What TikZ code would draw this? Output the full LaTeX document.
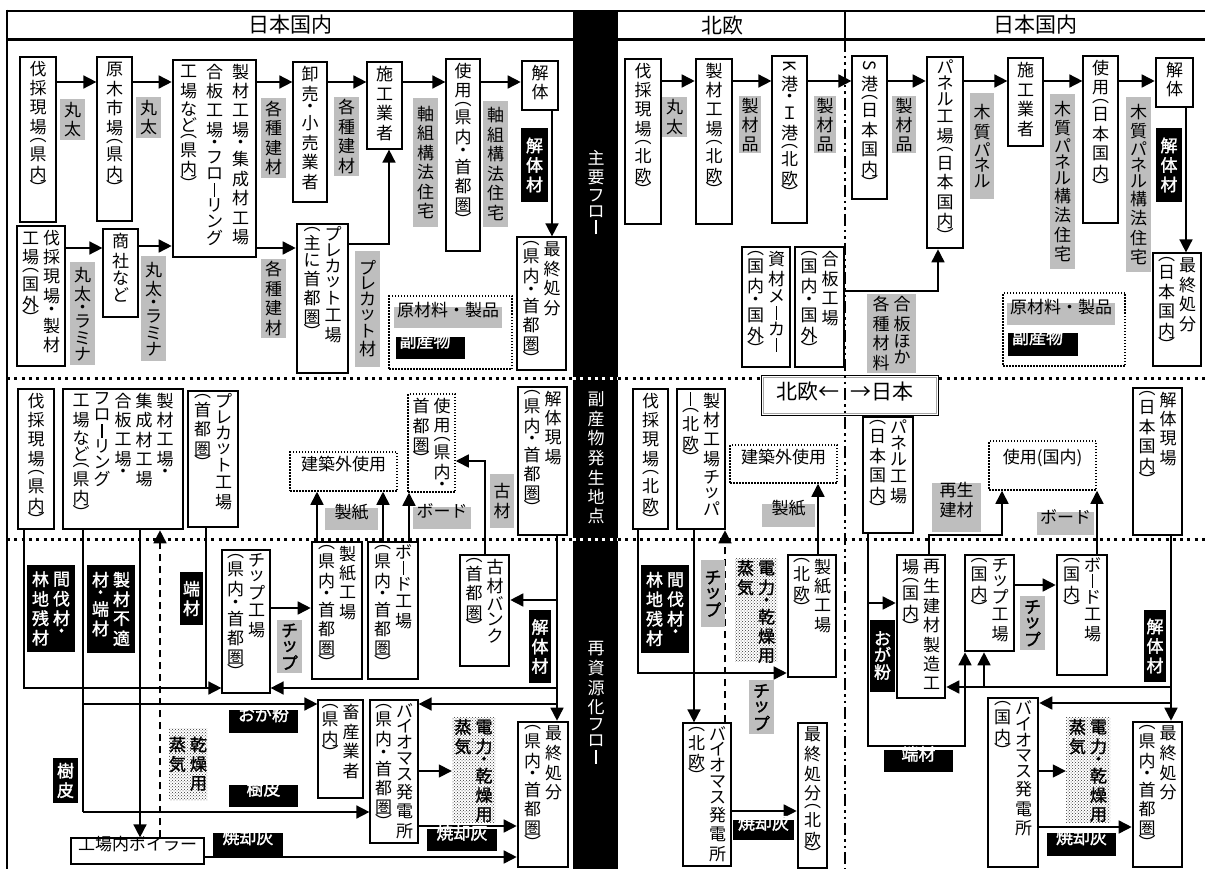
\documentclass[tikz,border=0pt]{standalone}
\usepackage{fontspec}
\usepackage{graphicx}
\setmainfont{Noto Sans CJK JP}
\newfontfamily\jb[FakeBold=1.6]{Noto Sans CJK JP}
\usetikzlibrary{arrows.meta,patterns,fit}
\definecolor{lgray}{RGB}{190,190,190}
\XeTeXuseglyphmetrics=1
\makeatletter
\newbox\vt@box
\newlength\vtpitch \setlength\vtpitch{19.5pt}
\newlength\vtgap \setlength\vtgap{4pt}
\let\vt@end\relax
\def\vt@endm{\vt@end}
\def\vt@LP{（}\def\vt@RP{）}\def\vt@DT{・}\def\vt@BR{ー}
\newcommand\vt[1]{\vtop{\offinterlineskip\hbox{}\vt@loop#1\vt@end}}
\def\vt@loop#1{\def\vt@tmp{#1}\ifx\vt@tmp\vt@endm\else\vt@char{#1}\expandafter\vt@loop\fi}
\def\vt@char#1{\def\vt@c{#1}%
 \ifcat\noexpand#1\relax \vt@slot{.8}{#1}%
 \else\ifx\vt@c\vt@LP \vt@slot{.38}{︵}%
 \else\ifx\vt@c\vt@RP \vt@slot{.38}{︶}%
 \else\ifx\vt@c\vt@DT \vt@slot{.5}{・}%
 \else\ifx\vt@c\vt@BR \vt@slot{.82}{\rule{1.4pt}{14pt}}%
 \else\ifnum`#1>"303F \ifnum`#1<"3100 \vt@slot{.82}{#1}\else\vt@slot{1}{#1}\fi
 \else\vt@slot{1}{#1}\fi
 \fi\fi\fi\fi\fi}
\def\vt@slot#1#2{%
 \setbox\vt@box\hbox{#2}%
 \dimen@=\dimexpr(\ht\vt@box-\dp\vt@box)/2\relax
 \setbox\vt@box\hbox to 1em{\hss\lower\dimen@\box\vt@box\hss}%
 \dimen@=#1\vtpitch \divide\dimen@ by 2
 \ht\vt@box=\dimen@ \dp\vt@box=\dimen@ \box\vt@box}
\newcommand\vtt[2]{\vt{#2}\hskip\vtgap\vt{#1}}
\newcommand\rK{\rotatebox[origin=c]{-90}{K}}
\newcommand\rS{\rotatebox[origin=c]{-90}{S}}
\makeatother
\begin{document}
\begin{tikzpicture}[x=1pt,y=-1pt,font=\fontsize{17}{20}\selectfont,
 thn/.style={draw,line width=1.2pt,fill=white,inner sep=0pt},
 thk/.style={draw,line width=2.6pt,fill=white,inner sep=0pt},
 dbx/.style={draw,line width=1.5pt,dash pattern=on 1.5pt off 1.5pt,fill=white,inner sep=0pt},
 tx/.style={anchor=north,inner sep=0pt,yshift=-3pt},
 hz/.style={text height=.86em,text depth=.1em},
 glab/.style={fill=lgray,inner sep=0pt},
 gblab/.style={fill=lgray,inner sep=0pt,font=\fontsize{17}{20}\jb},
 blab/.style={fill=black,text=white,inner sep=0pt,font=\fontsize{17}{20}\jb},
 plab/.style={pattern=crosshatch dots,pattern color=black!80,inner sep=0pt,font=\fontsize{17}{20}\jb},
 ln/.style={line width=1.6pt},
 arr/.style={line width=1.6pt,-{Triangle[length=13pt,width=13pt]}},
 darr/.style={line width=1.6pt,dash pattern=on 7pt off 5pt,-{Triangle[length=13pt,width=13pt]}},
 sep/.style={line width=3pt,dash pattern=on 3pt off 4.3pt},
 hdr/.style={font=\fontsize{21}{24}\selectfont,inner sep=0pt},
 band/.style={text=white,inner sep=0pt}]
\useasboundingbox (0,0) rectangle (1205,869);
\fill[white] (0,0) rectangle (1205,869);
% header and frame
\draw[line width=2.5pt] (7,11) -- (573,11);
\draw[line width=3pt] (7,40) -- (573,40);
\draw[line width=2.5pt] (618,11) -- (1205,11);
\draw[line width=3pt] (618,40) -- (1205,40);
\draw[line width=2pt] (845,11) -- (845,40);
\draw[line width=2.5pt] (7,9.75) -- (7,869);
\node[hdr] (H1) at (290,25) {日本国内};
\node[hdr] (H2) at (722,25) {北欧};
\node[hdr] (H3) at (1035,25) {日本国内};
\fill[black] (573,9.75) rectangle (618,869);
\node[band] (S1) at (596,192) {\vt{主要フロー}};
\node[band] (S2) at (596,458) {\vt{副産物発生地点}};
\node[band] (S3) at (596,702) {\vt{再資源化フロー}};
% separators
\draw[sep] (7,378) -- (573,378);
\draw[sep,white] (573,378) -- (618,378);
\draw[sep] (618,378) -- (1205,378);
\draw[sep] (7,539) -- (573,539);
\draw[sep,white] (573,539) -- (618,539);
\draw[sep] (618,539) -- (1205,539);
% north-europe / japan box
\node[draw,line width=1.2pt,fill=white,fit={(765,379)(935,412)}] (D4) {};
\draw[gray!70,line width=1.6pt] ([shift={(2.5pt,-2.5pt)}]D4.north west) rectangle ([shift={(-2.5pt,2.5pt)}]D4.south east);
\node[hz,font=\fontsize{21}{24}\selectfont,anchor=east,inner sep=0pt] (D4a) at (840,396) {北欧←};
\node[hz,font=\fontsize{21}{24}\selectfont,anchor=west,inner sep=0pt] (D4b) at (850,396) {→日本};
\draw[line width=2.2pt,dash pattern=on 12pt off 4pt on 2.5pt off 4pt on 2.5pt off 4pt] (845,40) -- (845,869);
% ---------- top left boxes
\node[thk,fit={(20,57)(56,222)}] (A1) {};
\node[tx] (A1t) at (A1.north) {\vt{伐採現場（県内）}};
\node[thn,fit={(97,57)(132,221)}] (A2) {};
\node[tx] (A2t) at (A2.north) {\vt{原木市場（県内）}};
\node[thk,fit={(173,60)(256,257)}] (A3) {};
\node[tx] (A3t) at (A3.north) {\vt{工場など（県内）}\hskip9pt\vt{合板工場・フローリング}\hskip9pt\vt{製材工場・集成材工場}};
\node[thn,fit={(293,62)(327,202)}] (A4) {};
\node[tx] (A4t) at (A4.north) {\vt{卸売・小売業者}};
\node[thn,fit={(367,62)(402,149)}] (A5) {};
\node[tx] (A5t) at (A5.north) {\vt{施工業者}};
\node[thn,fit={(446,59)(480,251)}] (A6) {};
\node[tx] (A6t) at (A6.north) {\vt{使用（県内・首都圏）}};
\node[thk,fit={(522,61)(558,110)}] (A7) {};
\node[tx] (A7t) at (A7.north) {\vt{解体}};
\node[thn,fit={(517,237)(566,370)}] (A8) {};
\node[tx] (A8t) at (A8.north) {\vtt{最終処分}{（県内・首都圏）}};
\node[thn,line width=2pt,fit={(17,226)(65,366)}] (A9) {};
\node[tx] (A9t) at (A9.north) {\vtt{伐採現場・製材}{工場（国外）}};
\node[thn,fit={(103,229)(138,317)}] (A10) {};
\node[tx] (A10t) at (A10.north) {\vt{商社など}};
\node[thk,fit={(297,224)(348,373)}] (A11) {};
\node[tx] (A11t) at (A11.north) {\vtt{プレカット工場}{（主に首都圏）}};
\node[dbx,fit={(389,296)(512,369)}] (L1) {};
\node[glab,hz,fit={(394,307)(502,328)}] (L1a) {原材料・製品};
\node[blab,hz,fit={(396,337)(465,359)}] (L1b) {\makebox[62pt][l]{副産物}};
% ---------- top right boxes
\node[thk,fit={(625,59)(661,224)}] (B1) {};
\node[tx] (B1t) at (B1.north) {\vt{伐採現場（北欧）}};
\node[thk,fit={(696,59)(732,224)}] (B2) {};
\node[tx] (B2t) at (B2.north) {\vt{製材工場（北欧）}};
\node[thn,fit={(772,56)(807,223)}] (B3) {};
\node[tx] (B3t) at (B3.north) {\vt{\rK 港・Ｉ港（北欧）}};
\node[thn,fit={(852,56)(887,199)}] (B4) {};
\node[tx] (B4t) at (B4.north) {\vt{\rS 港（日本国内）}};
\node[thk,fit={(927,57)(963,248)}] (B5) {};
\node[tx] (B5t) at (B5.north) {\vt{パネル工場（日本国内）}};
\node[thn,fit={(1008,58)(1043,146)}] (B6) {};
\node[tx] (B6t) at (B6.north) {\vt{施工業者}};
\node[thn,fit={(1083,56)(1118,223)}] (B7) {};
\node[tx] (B7t) at (B7.north) {\vt{使用（日本国内）}};
\node[thk,fit={(1156,58)(1193,107)}] (B8) {};
\node[tx] (B8t) at (B8.north) {\vt{解体}};
\node[thn,fit={(1153,253)(1201,366)}] (B9) {};
\node[tx] (B9t) at (B9.north) {\vtt{最終処分}{（日本国内）}};
\node[thn,fit={(742,247)(790,367)}] (B10) {};
\node[tx] (B10t) at (B10.north) {\vtt{資材メーカー}{（国内・国外）}};
\node[thn,fit={(795,247)(844,367)}] (B11) {};
\node[tx] (B11t) at (B11.north) {\vtt{合板工場}{（国内・国外）}};
\node[dbx,fit={(1003,293)(1125,366)}] (L2) {};
\node[glab,hz,fit={(1007,303)(1115,325)}] (L2a) {原材料・製品};
\node[blab,hz,fit={(1008,333)(1078,356)}] (L2b) {\makebox[62pt][l]{副産物}};
% ---------- middle boxes
\node[thk,fit={(18,389)(54,529)}] (C1) {};
\node[tx] (C1t) at (C1.north) {\vt{伐採現場（県内）}};
\node[thk,fit={(63,389)(183,529)}] (C2) {};
\node[tx] (C2t) at (C2.north) {\vt{工場など（県内）}\hskip\vtgap\vt{フローリング}\hskip\vtgap\vt{合板工場・}\hskip\vtgap\vt{集成材工場}\hskip\vtgap\vt{製材工場・}};
\node[thk,fit={(188,391)(238,527)}] (C3) {};
\node[tx] (C3t) at (C3.north) {\vtt{プレカット工場}{（首都圏）}};
\node[dbx,hz,fit={(290,452)(397,491)}] (C4) {建築外使用};
\node[dbx,fit={(408,394)(455,492)}] (C5) {};
\node[tx] (C5t) at (C5.north) {\vtt{使用（県内・}{首都圏）}};
\node[thk,fit={(518,387)(567,535)}] (C6) {};
\node[tx] (C6t) at (C6.north) {\vtt{解体現場}{（県内・首都圏）}};
\node[thk,fit={(633,389)(668,529)}] (D1) {};
\node[tx] (D1t) at (D1.north) {\vt{伐採現場（北欧）}};
\node[thk,fit={(677,389)(725,529)}] (D2) {};
\node[tx] (D2t) at (D2.north) {\vtt{製材工場チッパ}{ー（北欧）}};
\node[dbx,hz,fit={(730,445)(837,483)}] (D3) {建築外使用};
\node[thk,fit={(863,417)(913,533)}] (D5) {};
\node[tx] (D5t) at (D5.north) {\vtt{パネル工場}{（日本国内）}};
\node[dbx,hz,fit={(989,441)(1096,490)}] (D6) {使用(国内)};
\node[thk,fit={(1133,388)(1182,535)}] (D7) {};
\node[tx] (D7t) at (D7.north) {\vtt{解体現場}{（日本国内）}};
% ---------- bottom boxes
\node[thn,fit={(222,550)(270,693)}] (E1) {};
\node[tx] (E1t) at (E1.north) {\vtt{チップ工場}{（県内・首都圏）}};
\node[thk,fit={(312,542)(362,679)}] (E2) {};
\node[tx] (E2t) at (E2.north) {\vtt{製紙工場}{（県内・首都圏）}};
\node[thk,fit={(368,542)(418,679)}] (E3) {};
\node[tx] (E3t) at (E3.north) {\vtt{ボード工場}{（県内・首都圏）}};
\node[thk,fit={(460,555)(509,666)}] (E4) {};
\node[tx] (E4t) at (E4.north) {\vtt{古材バンク}{（首都圏）}};
\node[thn,fit={(318,700)(363,798)}] (E5) {};
\node[tx] (E5t) at (E5.north) {\vtt{畜産業者}{（県内）}};
\node[thn,fit={(370,700)(418,843)}] (E6) {};
\node[tx] (E6t) at (E6.north) {\vtt{バイオマス発電所}{（県内・首都圏）}};
\node[thk,fit={(518,722)(568,867)}] (E7) {};
\node[tx] (E7t) at (E7.north) {\vtt{最終処分}{（県内・首都圏）}};
\node[thn,hz,fit={(71,838)(204,864)}] (E8) {工場内ボイラー};
\node[thk,fit={(788,555)(836,677)}] (F1) {};
\node[tx] (F1t) at (F1.north) {\vtt{製紙工場}{（北欧）}};
\node[thn,fit={(683,723)(731,866)}] (F2) {};
\node[tx] (F2t) at (F2.north) {\vtt{バイオマス発電所}{（北欧）}};
\node[thk,fit={(798,723)(827,868)}] (F3) {};
\node[tx] (F3t) at (F3.north) {\vt{最終処分（北欧）}};
\node[thk,fit={(897,555)(945,698)}] (G1) {};
\node[tx] (G1t) at (G1.north) {\vtt{再生建材製造工}{場（国内）}};
\node[thk,fit={(965,555)(1014,651)}] (G2) {};
\node[tx] (G2t) at (G2.north) {\vtt{チップ工場}{（国内）}};
\node[thk,fit={(1057,555)(1107,675)}] (G3) {};
\node[tx] (G3t) at (G3.north) {\vtt{ボード工場}{（国内）}};
\node[thk,fit={(988,698)(1038,867)}] (G4) {};
\node[tx] (G4t) at (G4.north) {\vtt{バイオマス発電所}{（国内）}};
\node[thk,fit={(1133,722)(1182,867)}] (G5) {};
\node[tx] (G5t) at (G5.north) {\vtt{最終処分}{（県内・首都圏）}};
% pattern labels (needed as arrow targets)
\node[plab,fit={(169,728)(207,800)}] (P1) {\vtt{乾燥用}{蒸気}};
\node[plab,fit={(452,718)(495,822)}] (P2) {\vtt{電力・乾燥用}{蒸気}};
\node[plab,fit={(735,560)(777,660)}] (P3) {\vtt{電力・乾燥用}{蒸気}};
\node[plab,fit={(1066,718)(1110,822)}] (P4) {\vtt{電力・乾燥用}{蒸気}};
% ---------- connectors: top
\coordinate (r1) at (0,82);
\draw[arr] (A1.east |- r1) -- (A2.west |- r1);
\draw[arr] (A2.east |- r1) -- (A3.west |- r1);
\draw[arr] (A3.east |- r1) -- (A4.west |- r1);
\draw[arr] (A4.east |- r1) -- (A5.west |- r1);
\draw[arr] (A5.east |- r1) -- (A6.west |- r1);
\draw[arr] (A6.east |- r1) -- (A7.west |- r1);
\draw[arr] (A7.south -| 552,0) -- (A8.north -| 552,0);
\draw[arr] (A9.east |- 0,248) -- (A10.west |- 0,248);
\draw[arr] (A10.east |- 0,246) -- (A3.west |- 0,246);
\draw[arr] (A3.east |- 0,248) -- (A11.west |- 0,248);
\draw[arr] (A11.east |- 0,244) -| (A5.south -| 389,0);
\coordinate (r2) at (0,81);
\draw[arr] (B1.east |- r2) -- (B2.west |- r2);
\draw[arr] (B2.east |- r2) -- (B3.west |- r2);
\draw[arr] (B3.east |- r2) -- (B4.west |- r2);
\draw[arr] (B4.east |- r2) -- (B5.west |- r2);
\draw[arr] (B5.east |- r2) -- (B6.west |- r2);
\draw[arr] (B6.east |- r2) -- (B7.west |- r2);
\draw[arr] (B7.east |- r2) -- (B8.west |- r2);
\draw[arr] (B8.south -| 1186,0) -- (B9.north -| 1186,0);
\draw[arr] (B11.east |- 0,291) -| (B5.south -| 938,0);
% ---------- connectors: bottom left
\coordinate (k1) at (206,688);
\coordinate (k2) at (83,704);
\coordinate (k3) at (83,812);
\coordinate (k4) at (557,600);
\coordinate (k5) at (557,688);
\coordinate (k6) at (557,704);
\draw[arr] (C1.south -| 24,0) |- (E1.west |- k1);
\draw[ln] (C3.south -| k1) -- (k1);
\draw[ln] (C2.south -| k3) -- (k3);
\draw[arr] (k2) -- (E5.west |- k2);
\draw[arr] (k3) -- (E6.west |- k3);
\draw[arr] (C2.south -| 140,0) -- (E8.north -| 140,0);
\draw[darr] (E8.north -| 160,0) -- (C2.south -| 160,0);
\draw[arr] (E8.east |- 0,857) -- (E7.west |- 0,857);
\draw[arr] (E1.east |- 0,608) -- (E2.west |- 0,608);
\draw[arr] (E2.north -| 317,0) -- (C4.south -| 317,0);
\draw[arr] (E3.north -| 383,0) -- (C4.south -| 383,0);
\draw[arr] (E3.north -| 409,0) -- (C5.south -| 409,0);
\draw[arr] (E4.north -| 485,0) |- (C5.east |- 0,461);
\draw[arr] (C6.south -| 557,0) -- (E7.north -| 557,0);
\draw[arr] (k4) -- (E4.east |- k4);
\draw[arr] (k5) -- (E1.east |- k5);
\draw[arr] (k6) -- (E6.east |- k6);
\draw[arr] (E6.east |- 0,771) -- (P2.west |- 0,771);
\draw[arr] (E6.east |- 0,826) -- (E7.west |- 0,826);
% ---------- connectors: bottom north europe
\draw[arr] (D1.south -| 638,0) |- (F1.west |- 0,673);
\draw[arr] (D2.south -| 694,0) -- (F2.north -| 694,0);
\draw[darr] (F2.north -| 725,0) -- (D2.south -| 725,0);
\draw[arr] (F1.north -| 818,0) -- (D3.south -| 818,0);
\draw[arr] (F2.east |- 0,811) -- (F3.west |- 0,811);
% ---------- connectors: bottom japan
\coordinate (k8) at (965,746);
\coordinate (k9) at (868,603);
\coordinate (k10) at (1171,687);
\coordinate (k11) at (984,687);
\coordinate (k12) at (1171,703);
\coordinate (k13) at (1002,535);
\draw[arr] (D5.south -| k9) |- (k8) -- (G2.south -| k8);
\draw[arr] (k9) -- (G1.west |- k9);
\draw[arr] (D7.south -| k10) -- (G5.north -| k10);
\draw[arr] (k10) -- (G1.east |- k10);
\draw[arr] (k11) -- (G2.south -| k11);
\draw[arr] (k12) -- (G4.east |- k12);
\draw[arr] (G2.east |- 0,585) -- (G3.west |- 0,585);
\draw[arr] (G1.north -| 929,0) |- (k13) -- (D6.south -| k13);
\draw[arr] (G3.north -| 1097,0) -- (D6.south -| 1097,0);
\draw[arr] (G4.east |- 0,771) -- (P4.west |- 0,771);
\draw[arr] (G4.east |- 0,827) -- (G5.west |- 0,827);
% ---------- labels top left
\node[glab,fit={(60,99)(85,140)}] (g1) {\vt{丸太}};
\node[glab,fit={(136,97)(161,138)}] (g2) {\vt{丸太}};
\node[glab,fit={(261,98)(286,178)}] (g3) {\vt{各種建材}};
\node[glab,fit={(334,97)(359,176)}] (g4) {\vt{各種建材}};
\node[glab,fit={(413,98)(438,227)}] (g5) {\vt{軸組構法住宅}};
\node[glab,fit={(483,101)(508,227)}] (g6) {\vt{軸組構法住宅}};
\node[blab,fit={(521,128)(548,202)}] (g7) {\vt{解体材}};
\node[glab,fit={(70,262)(95,365)}] (g8) {\vt{丸太・ラミナ}};
\node[glab,fit={(141,256)(166,361)}] (g9) {\vt{丸太・ラミナ}};
\node[glab,fit={(261,259)(286,338)}] (g10) {\vt{各種建材}};
\node[glab,fit={(355,251)(380,367)}] (g11) {\vt{プレカット材}};
% labels top right
\node[glab,fit={(662,97)(687,137)}] (h1) {\vt{丸太}};
\node[glab,fit={(739,97)(761,152)}] (h2) {\vt{製材品}};
\node[glab,fit={(814,97)(836,152)}] (h3) {\vt{製材品}};
\node[glab,fit={(892,97)(916,152)}] (h4) {\vt{製材品}};
\node[glab,fit={(970,93)(994,199)}] (h5) {\vt{木質パネル}};
\node[glab,fit={(1050,94)(1075,269)}] (h6) {\vt{木質パネル構法住宅}};
\node[glab,fit={(1126,97)(1151,272)}] (h7) {\vt{木質パネル構法住宅}};
\node[blab,fit={(1156,128)(1182,202)}] (h8) {\vt{解体材}};
\node[glab,fit={(867,294)(916,373)}] (h9) {\vtt{合板ほか}{各種材料}};
% labels middle
\node[glab,hz,fit={(325,508)(378,530)}] (m1) {製紙};
\node[glab,hz,fit={(413,507)(471,529)}] (m2) {ボード};
\node[glab,fit={(490,474)(514,528)}] (m3) {\vt{古材}};
\node[glab,hz,fit={(762,504)(815,527)}] (m4) {製紙};
\node[glab,align=center,fit={(932,483)(981,532)}] (m5) {再生\\建材};
\node[glab,hz,fit={(1037,512)(1094,535)}] (m6) {ボード};
% labels bottom
\node[blab,fit={(27,565)(75,652)}] (n1) {\vtt{間伐材・}{林地残材}};
\node[blab,fit={(87,565)(135,653)}] (n2) {\vtt{製材不適}{材・端材}};
\node[blab,fit={(180,572)(203,625)}] (n3) {\vt{端材}};
\node[gblab,fit={(277,620)(302,673)}] (n4) {\vt{チップ}};
\node[blab,fit={(529,610)(551,683)}] (n5) {\vt{解体材}};
\node[blab,hz,fit={(229,710)(298,733)}] (n6) {おが粉};
\node[blab,hz,fit={(229,785)(298,807)}] (n7) {樹皮};
\node[blab,fit={(53,758)(78,803)}] (n8) {\vt{樹皮}};
\node[blab,hz,fit={(213,833)(283,856)}] (n9) {焼却灰};
\node[blab,hz,fit={(427,829)(497,851)}] (n10) {焼却灰};
\node[blab,fit={(641,565)(689,653)}] (n11) {\vtt{間伐材・}{林地残材}};
\node[gblab,fit={(701,560)(725,627)}] (n12) {\vt{チップ}};
\node[gblab,fit={(749,680)(774,734)}] (n13) {\vt{チップ}};
\node[blab,hz,fit={(733,820)(794,840)}] (n14) {焼却灰};
\node[blab,fit={(870,620)(895,692)}] (n15) {\vt{おが粉}};
\node[blab,hz,fit={(884,750)(953,772)}] (n16) {端材};
\node[gblab,fit={(1020,596)(1045,650)}] (n17) {\vt{チップ}};
\node[blab,fit={(1144,610)(1166,682)}] (n18) {\vt{解体材}};
\node[blab,hz,fit={(1047,833)(1116,856)}] (n19) {焼却灰};
\end{tikzpicture}
\end{document}
